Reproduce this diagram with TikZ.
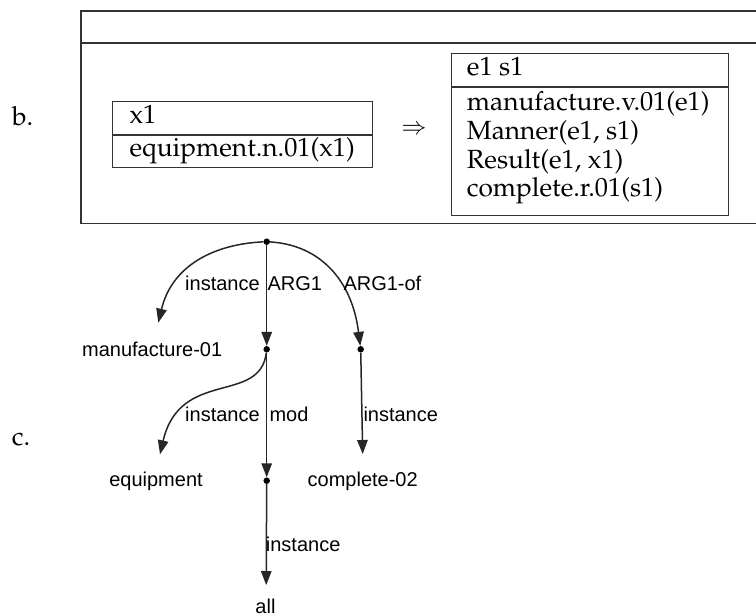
\documentclass[tikz,border=0pt]{standalone}
\usepackage[T1]{fontenc}
\usepackage{fontspec}
\newfontfamily\gsans{Liberation Sans}
\newcommand\palfont{\fontencoding{T1}\fontfamily{ppl}\selectfont}
\usetikzlibrary{arrows.meta}
\begin{document}
\begin{tikzpicture}[x=1pt,y=-1pt,
  drs/.style={font=\palfont\fontsize{26.3}{28}\selectfont, anchor=base west, inner sep=0pt},
  glab/.style={font=\gsans\fontsize{20}{24}\selectfont, anchor=base west, inner sep=0pt},
  gnode/.style={font=\gsans\fontsize{20}{24}\selectfont, anchor=base, inner sep=0pt},
  dot/.style={circle, fill=black, inner sep=0pt, minimum size=6.5pt},
  edge/.style={draw=black!85, line width=1.5pt, -{Triangle[length=14pt,width=10.5pt]}},
  box/.style={draw=black!80, line width=1.1pt},
  drsbox/.style={box, anchor=north west, inner sep=0pt}]
\useasboundingbox (0,0) rectangle (756,616);

% outer frame
\draw[box] (757,11) -- (81,11) -- (81,223.3) -- (757,223.3);
\draw[box] (81,43) -- (757,43);

\node[drs] (lb) at (12,125) {b.};
\node[drs] (lc) at (11.7,445.7) {c.};

% left DRS
\node[drsbox, minimum width=260pt, minimum height=33pt] (lhead) at (112.3,100.7) {};
\node[drsbox, minimum width=260pt, minimum height=32.3pt] (lbody) at (lhead.south west) {};
\node[drs] (x1) at (129.3,123.3) {x1};
\node[drs] (eq) at (129.3,156.7) {equipment.n.01(x1)};

\node[font=\fontsize{25}{25}\selectfont, inner sep=0pt] (imp) at (414,130) {$\Rightarrow$};

% right DRS
\node[drsbox, minimum width=277.6pt, minimum height=33pt] (rhead) at (450.7,52.7) {};
\node[drsbox, minimum width=277.6pt, minimum height=128.3pt] (rbody) at (rhead.south west) {};
\node[drs] (es) at (466.7,75) {e1 s1};
\node[drs] (r1) at (466.7,110.7) {manufacture.v.01(e1)};
\node[drs] (r2) at (466.7,139.3) {Manner(e1, s1)};
\node[drs] (r3) at (466.7,168) {Result(e1, x1)};
\node[drs] (r4) at (466.7,196.7) {complete.r.01(s1)};

% graph
\node[dot] (r) at (266.7,241.7) {};
\node[dot] (a) at (266.7,349.3) {};
\node[dot] (b) at (360.7,349.3) {};
\node[dot] (c) at (266.7,480.7) {};
\node[gnode] (manu) at (152.2,356) {manufacture-01};
\node[gnode] (equip) at (156,486) {equipment};
\node[gnode] (comp) at (362.7,486) {complete-02};
\node[gnode] (all) at (265.5,613) {all};
\coordinate (mtip) at (158.3,322.7);
\coordinate (etip) at (160,454.3);
\coordinate (ctip) at (362.7,454);
\coordinate (atip) at (266.2,585);

\draw[edge] (r) .. controls (215,244) and (172,265) .. (mtip);
\draw[edge] (r) -- (a);
\draw[edge] (r) .. controls (320,245) and (352,280) .. (b);
\draw[edge] (a) .. controls (260,405) and (180,368) .. (etip);
\draw[edge] (a) -- (c);
\draw[edge] (b) -- (ctip);
\draw[edge] (c) -- (atip);

\node[glab] (l1) at (185,290) {instance};
\node[glab] (l2) at (267.3,290) {ARG1};
\node[glab] (l3) at (343.3,290) {ARG1-of};
\node[glab] (l4) at (185,421.7) {instance};
\node[glab] (l5) at (269.3,421.7) {mod};
\node[glab] (l6) at (363.3,421.7) {instance};
\node[glab] (l7) at (265.7,551) {instance};
\end{tikzpicture}
\end{document}
